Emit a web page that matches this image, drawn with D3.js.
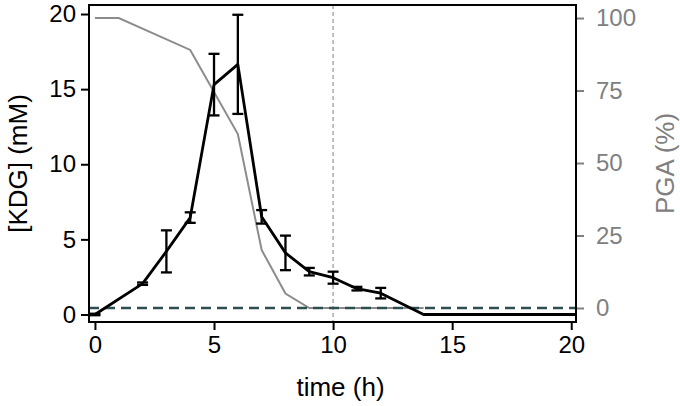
<!DOCTYPE html>
<html>
<head>
<meta charset="utf-8">
<script src="https://cdn.jsdelivr.net/npm/d3@7"></script>
<style>
  body { margin: 0; background: #fff; }
  svg text { font-family: "Liberation Sans", Arial, sans-serif; }
</style>
</head>
<body>
<svg id="chart" width="680" height="406"></svg>
<script>
// KDG concentration (mM), mean and error
const kdgTime = [0, 2, 3, 4, 5, 6, 7, 8, 9, 10, 11, 12, 13.8, 24];
const kdgMean = [0, 2.05, 4.2, 6.45, 15.3, 16.65, 6.5, 4.1, 2.85, 2.45, 1.72, 1.42, 0, 0];
const kdgErr = [0.05, 0.08, 1.4, 0.35, 2.05, 3.3, 0.45, 1.15, 0.25, 0.4, 0.12, 0.35, 0, 0];

// PGA remaining (%)
const pgaTime = [0, 1, 4, 6, 7, 8, 9, 10, 11, 12, 13.8];
const pgaVal = [100, 100, 89, 60, 20, 5, 0, 0, 0, 0, 0];

const xTicks = [0, 5, 10, 15, 20];
const yTicks = [0, 5, 10, 15, 20];
const pgaTicks = [0, 25, 50, 75, 100];

const svg = d3.select("#chart");
const pLeft = 89, pRight = 576, pTop = 5, pBottom = 322;

const x = d3.scaleLinear().domain([-0.25, 20.2]).range([pLeft, pRight]);
const y = d3.scaleLinear().domain([-0.5, 20.6]).range([pBottom, pTop]);
const y2 = d3.scaleLinear().domain([-4.83, 104.5]).range([pBottom, pTop]);

svg.append("defs").append("clipPath").attr("id", "plotClip")
  .append("rect")
  .attr("x", pLeft).attr("y", pTop)
  .attr("width", pRight - pLeft).attr("height", pBottom - pTop);

// reference lines
svg.append("line")
  .attr("x1", x(10)).attr("x2", x(10))
  .attr("y1", pTop).attr("y2", pBottom)
  .attr("stroke", "#aaa")
  .attr("stroke-width", 1.5)
  .attr("stroke-dasharray", "4,3");

const plot = svg.append("g").attr("clip-path", "url(#plotClip)");

const pgaLine = d3.line()
  .x((d, i) => x(pgaTime[i]))
  .y(d => y2(d));
plot.append("path")
  .datum(pgaVal)
  .attr("fill", "none")
  .attr("stroke", "#8c8c8c")
  .attr("stroke-width", 2)
  .attr("d", pgaLine);

plot.append("line")
  .attr("x1", pLeft).attr("x2", pRight)
  .attr("y1", y2(0)).attr("y2", y2(0))
  .attr("stroke", "#2f4f4f")
  .attr("stroke-width", 2.5)
  .attr("stroke-dasharray", "10,6");

const kdgLine = d3.line()
  .x((d, i) => x(kdgTime[i]))
  .y(d => y(d));
plot.append("path")
  .datum(kdgMean)
  .attr("fill", "none")
  .attr("stroke", "#000")
  .attr("stroke-width", 2.8)
  .attr("stroke-linejoin", "round")
  .attr("d", kdgLine);

// error bars
const bars = kdgTime.map((t, i) => ({ t: t, m: kdgMean[i], e: kdgErr[i] }))
  .filter(d => d.e > 0);
const eb = plot.append("g")
  .attr("stroke", "#000")
  .attr("stroke-width", 2.3);
eb.selectAll(".v").data(bars).join("line")
  .attr("x1", d => x(d.t)).attr("x2", d => x(d.t))
  .attr("y1", d => y(d.m - d.e)).attr("y2", d => y(d.m + d.e));
eb.selectAll(".hi").data(bars).join("line")
  .attr("x1", d => x(d.t) - 5.5).attr("x2", d => x(d.t) + 5.5)
  .attr("y1", d => y(d.m + d.e)).attr("y2", d => y(d.m + d.e));
eb.selectAll(".lo").data(bars).join("line")
  .attr("x1", d => x(d.t) - 5.5).attr("x2", d => x(d.t) + 5.5)
  .attr("y1", d => y(d.m - d.e)).attr("y2", d => y(d.m - d.e));

// axes
const gx = svg.append("g")
  .attr("transform", `translate(0,${pBottom})`)
  .call(d3.axisBottom(x).tickValues(xTicks).tickSize(8).tickPadding(6));
gx.select(".domain").remove();
gx.selectAll("line").attr("stroke", "#000").attr("stroke-width", 2);
gx.selectAll("text").attr("font-size", 24).attr("fill", "#000");

const gy = svg.append("g")
  .attr("transform", `translate(${pLeft},0)`)
  .call(d3.axisLeft(y).tickValues(yTicks).tickSize(8).tickPadding(5));
gy.select(".domain").remove();
gy.selectAll("line").attr("stroke", "#000").attr("stroke-width", 2);
gy.selectAll("text").attr("font-size", 24).attr("fill", "#000");

const gy2 = svg.append("g")
  .attr("transform", `translate(${pRight},0)`)
  .call(d3.axisRight(y2).tickValues(pgaTicks).tickSize(8).tickPadding(12));
gy2.select(".domain").remove();
gy2.selectAll("line").attr("stroke", "#808080").attr("stroke-width", 2);
gy2.selectAll("text").attr("font-size", 24).attr("fill", "#808080");

// frame
svg.append("rect")
  .attr("x", pLeft).attr("y", pTop)
  .attr("width", pRight - pLeft).attr("height", pBottom - pTop)
  .attr("fill", "none")
  .attr("stroke", "#000")
  .attr("stroke-width", 2);

// titles
svg.append("text")
  .attr("x", (pLeft + pRight) / 2 + 8)
  .attr("y", 396)
  .attr("text-anchor", "middle")
  .attr("font-size", 26)
  .text("time (h)");

svg.append("text")
  .attr("transform", `translate(27,${(pTop + pBottom) / 2}) rotate(-90)`)
  .attr("text-anchor", "middle")
  .attr("font-size", 26)
  .text("[KDG] (mM)");

svg.append("text")
  .attr("transform", `translate(674,${(pTop + pBottom) / 2}) rotate(-90)`)
  .attr("text-anchor", "middle")
  .attr("font-size", 26)
  .attr("fill", "#808080")
  .text("PGA (%)");
</script>
</body>
</html>
